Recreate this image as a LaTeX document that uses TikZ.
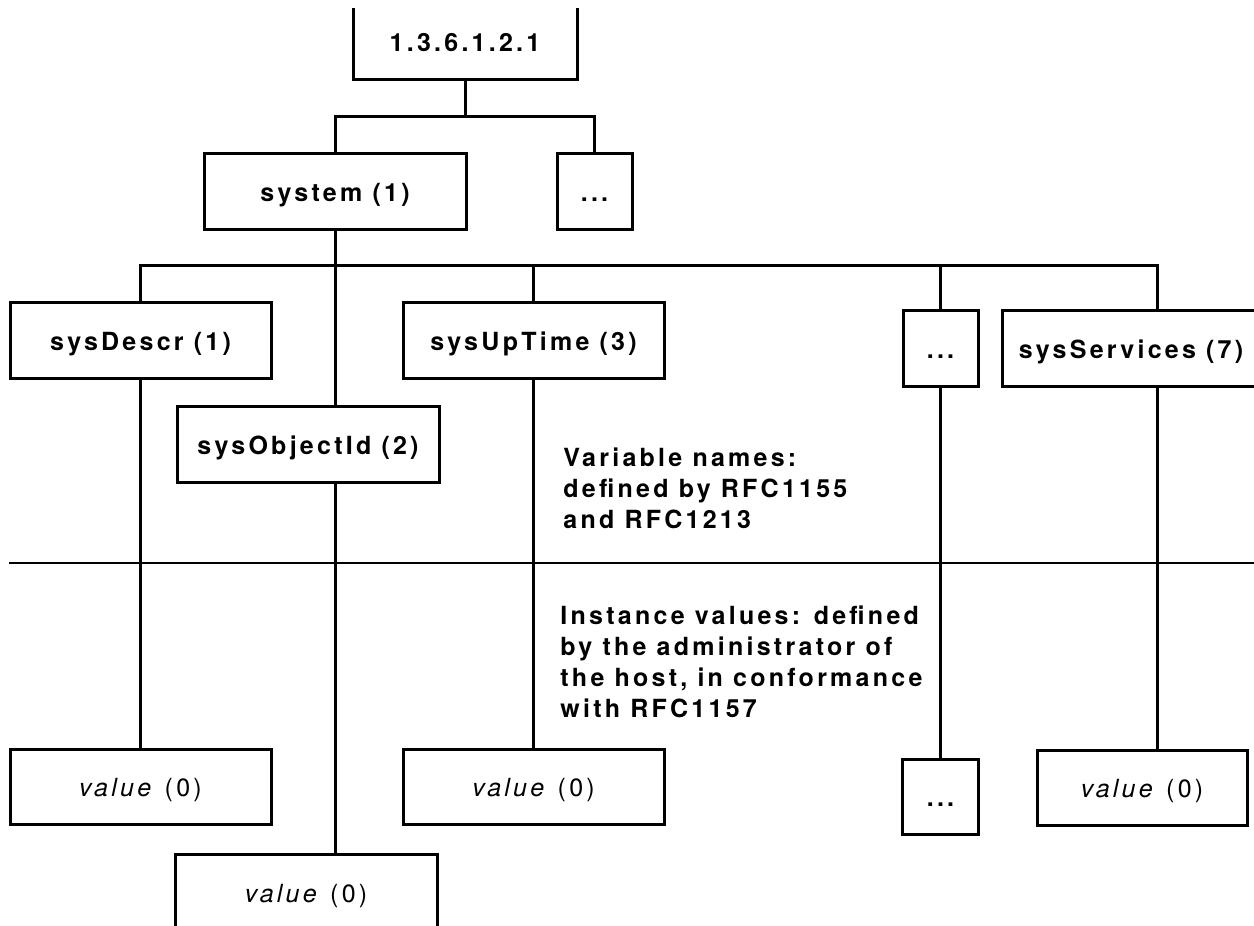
\documentclass[tikz,border=0pt]{standalone}
\usepackage{fontspec}
\newfontfamily\helv[LetterSpace=13]{TeX Gyre Heros}
\usetikzlibrary{calc}

\tikzset{
  tbox/.style={draw, line width=1.5pt, inner sep=0pt, minimum height=38pt,
    text height=10pt, text depth=0pt, font=\helv\bfseries\fontsize{12.5}{15.5}\selectfont},
  vbox/.style={tbox, font=\helv\fontsize{12.5}{15.5}\selectfont},
  note/.style={anchor=north west, inner sep=0pt, align=left,
    font=\helv\bfseries\fontsize{12.5}{15.5}\selectfont},
  wire/.style={line width=1.5pt}
}

\begin{document}
\begin{tikzpicture}[line cap=butt,line join=miter,x=0.5pt,y=-0.5pt]
\useasboundingbox (0,0) rectangle (1254,926);
\clip (0,8) rectangle (1254,926);

% variable names
\node[tbox, minimum width=112pt] (root) at (465,41.5) {1.3.6.1.2.1};
\node[tbox, minimum width=131pt] (sys) at (335,191) {system (1)};
\node[tbox, minimum width=37.5pt] (dotsA) at (594.5,191) {...};

\node[tbox, minimum width=130.5pt] (descr) at (140.5,340) {sysDescr (1)};
\node[tbox, minimum width=130.5pt] (uptime) at (533.5,340) {sysUpTime (3)};
\node[tbox, minimum width=131pt] (objid) at (308,444) {sysObjectId (2)};
\node[tbox, minimum width=37.5pt] (dotsB) at (940.5,348) {...};
\node[tbox, minimum width=129pt] (services) at (1131,348) {sysServices (7)};

% instance values
\node[vbox, minimum width=130.5pt, minimum height=37.5pt] (valDescr) at (140.5,786.5) {\itshape value\/ \upshape(0)};
\node[vbox, minimum width=130.5pt, minimum height=37.5pt] (valUptime) at (533.5,786.5) {\itshape value\/ \upshape(0)};
\node[vbox, minimum width=131pt] (valObj) at (306,892) {\itshape value\/ \upshape(0)};
\node[tbox, minimum width=38pt, minimum height=37.5pt] (dotsC) at (940.5,796.5) {...};
\node[vbox, minimum width=105pt, minimum height=37.5pt] (valSrv) at (1142,787.5) {\itshape value\/ \upshape(0)};

\node[note] (varnote) at (563,447) {Variable names:\\defined by RFC1155\\and RFC1213};
\node[note] (instnote) at (560,605) {Instance values: defined\\by the administrator of\\the host, in conformance\\with RFC1157};

\coordinate (j1) at (465,116);
\coordinate (j2) at (335,265);
\coordinate (j3) at (1157,265);
\coordinate (dl) at (9,563);
\coordinate (dr) at (1254,563);

\draw[wire] (root) -- (j1);
\draw[wire] (sys) |- (j1) -| (dotsA);

\draw[wire] (descr) |- (j3) -- (j3 |- services.north);
\draw[wire] (sys) -- (sys |- objid.north);
\draw[wire] (uptime) -- (uptime |- j2);
\draw[wire] (dotsB) -- (dotsB |- j2);

\draw[wire] (descr) -- (valDescr);
\draw[wire] (uptime) -- (valUptime);
\draw[wire] (dotsB) -- (dotsC);
\draw[wire] (sys |- objid.south) -- (sys |- valObj.north);
\draw[wire] (j3 |- services.south) -- (j3 |- valSrv.north);

\draw[line width=1.2pt] (dl) -- (dr);
\end{tikzpicture}
\end{document}
